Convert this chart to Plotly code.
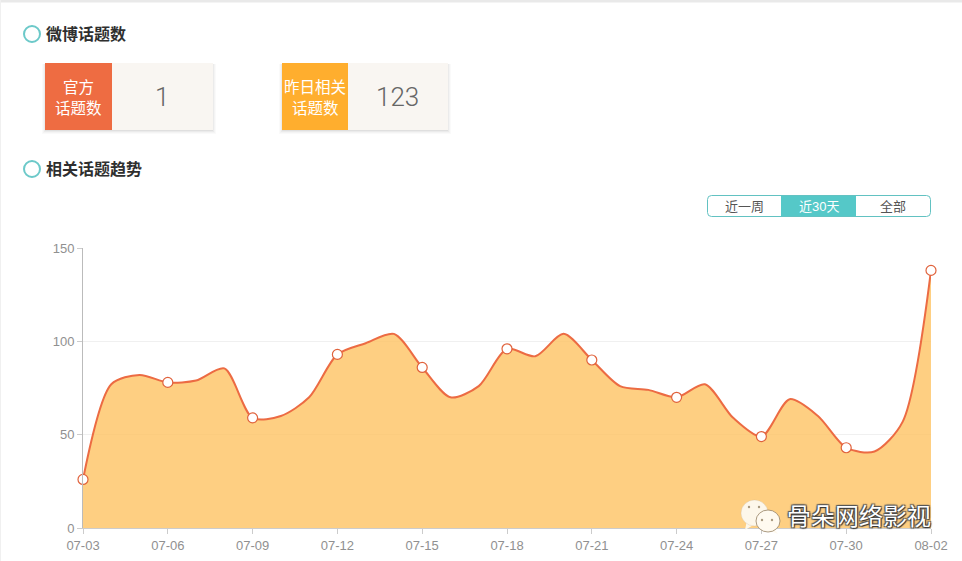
import plotly.graph_objects as go

dates = ["07-03","07-04","07-05","07-06","07-07","07-08","07-09","07-10","07-11","07-12","07-13",
         "07-14","07-15","07-16","07-17","07-18","07-19","07-20","07-21","07-22","07-23","07-24",
         "07-25","07-26","07-27","07-28","07-29","07-30","07-31","08-01","08-02"]
topics = [26,77,82,78,79,85.5,59,60,70,93,99,104,86,70,76,96,92,104,90,76,74,70,77,59,49,69,60,43,41,57,138]
y_ticks = [0,50,100,150]
tick_dates = dates[::3]

L,R,T,B = 83,931,248,528
W,H = 962,561
def px(x): return (x-L)/(R-L)
def py(y): return (B-y)/(B-T)

SANS = "Liberation Sans, Noto Sans CJK SC, sans-serif"
TEAL = "#55c8c8"
shapes, notes = [], []

def rect(x0,y0,x1,y1,fill,line=None,layer="above"):
    shapes.append(dict(type="rect",xref="paper",yref="paper",x0=px(x0),x1=px(x1),y0=py(y0),y1=py(y1),
        fillcolor=fill,line=dict(width=0) if line is None else line,layer=layer))
def oval(x0,y0,x1,y1,fill="rgba(0,0,0,0)",line=None):
    shapes.append(dict(type="circle",xref="paper",yref="paper",x0=px(x0),x1=px(x1),y0=py(y0),y1=py(y1),
        fillcolor=fill,line=dict(width=0) if line is None else line,layer="above"))
def text(x,y,s,size,color,anchor="center",weight="normal",shadow=None,family=SANS):
    f=dict(size=size,color=color,family=family,weight=weight)
    if shadow: f["shadow"]=shadow
    notes.append(dict(xref="paper",yref="paper",x=px(x),y=py(y),text=s,showarrow=False,xanchor=anchor,
        yanchor="middle",font=f,align="center"))
def rounded(x0,y0,x1,y1,r):
    X0,X1,Y0,Y1=px(x0),px(x1),py(y0),py(y1)
    rx,ry=r/(R-L),r/(B-T)
    return (f"M {X0+rx} {Y0} L {X1-rx} {Y0} Q {X1} {Y0} {X1} {Y0-ry} L {X1} {Y1+ry} Q {X1} {Y1} {X1-rx} {Y1} "
            f"L {X0+rx} {Y1} Q {X0} {Y1} {X0} {Y1+ry} L {X0} {Y0-ry} Q {X0} {Y0} {X0+rx} {Y0} Z")
def poly(points,fill):
    d="M "+" L ".join(f"{px(a)} {py(b)}" for a,b in points)+" Z"
    shapes.append(dict(type="path",xref="paper",yref="paper",path=d,fillcolor=fill,line=dict(width=0),layer="above"))

# page edges
rect(0,0,W,2.5,"#e9e9e9")
rect(0,0,1,H,"#f0f0f0")

# section headings
for cy,s in ((34,"微博话题数"),(169,"相关话题趋势")):
    oval(24,cy-8,40,cy+8,line=dict(color="#6cc9c9",width=2))
    text(44,cy,s,16,"#2f2f2f",anchor="left",weight="bold")

# cards
for x0,xm,x1,color,l1,l2,val in ((45,112,213,"#ee6c42","官方","话题数","1"),
                                 (282,348,448,"#ffae2e","昨日相关","话题数","123")):
    for i,a in ((4,0.02),(3,0.025),(2,0.035),(1,0.05)):
        rect(x0-i+1,64,x1+i-1,130+i,f"rgba(0,0,0,{a})")
    rect(x0,63,x1,130,"#f9f6f2")
    rect(x0,63,xm,130,color)
    text((x0+xm)/2,87,l1,15.5,"#ffffff")
    text((x0+xm)/2,108,l2,15.5,"#ffffff")
    text((xm+x1)/2-1,97,val,26,"#666666",family="Roboto, Liberation Sans, sans-serif",weight=300)

# range buttons
shapes.append(dict(type="rect",xref="paper",yref="paper",x0=px(781),x1=px(856),y0=py(195.5),y1=py(216.5),
    fillcolor=TEAL,line=dict(width=0),layer="above"))
shapes.append(dict(type="path",xref="paper",yref="paper",path=rounded(707.5,195.5,930.5,216.5,4),
    line=dict(color="#62c2c2",width=1),fillcolor="rgba(0,0,0,0)",layer="above"))
text(744,206,"近一周",13,"#555555")
text(818.5,206,"近30天",13,"#ffffff")
text(893,206,"全部",13,"#555555")

# watermark
poly([(747,520),(745,530),(755,524)],"#fdf7ea")
oval(741,500,768,526,fill="#fdf7ea",line=dict(color="rgba(190,170,140,0.5)",width=0.5))
poly([(773,527),(778,534),(768,530)],"#fffaf0")
oval(756,510,780,532,fill="#fffaf0",line=dict(color="rgba(150,130,100,0.8)",width=1))
for cx,cy in ((749,507),(759,507),(762,520),(772,520)):
    oval(cx-1.2,cy-1.2,cx+1.2,cy+1.2,fill="#a89a80")
text(859,516,"骨朵网络影视",24,"#ffffff",
     shadow="1px 1px 1px #333, -1px -1px 1px #555, 1px -1px 1px #555, -1px 1px 1px #555")

fig = go.Figure()
fig.add_trace(go.Scatter(x=dates,y=topics,mode="lines",line=dict(color="#ec6b43",width=2,shape="spline",smoothing=0.8),
    fill="tozeroy",fillcolor="rgba(254,195,99,0.8)",hoverinfo="skip"))
fig.add_trace(go.Scatter(x=dates[::3],y=topics[::3],mode="markers",
    marker=dict(color="#ffffff",size=10,line=dict(color="#e0623c",width=1.2)),cliponaxis=False,hoverinfo="skip"))

fig.update_layout(width=W,height=H,autosize=False,showlegend=False,paper_bgcolor="#ffffff",plot_bgcolor="#ffffff",
    margin=dict(l=L,r=W-R,t=T,b=H-B),shapes=shapes,annotations=notes,
    font=dict(family=SANS,size=13,color="#909090"),
    xaxis=dict(type="category",categoryorder="array",categoryarray=dates,range=[0,len(dates)-1],automargin=False,
        tickmode="array",tickvals=tick_dates,ticktext=tick_dates,ticks="outside",ticklen=5,tickcolor="#cccccc",
        showgrid=False,showline=True,linecolor="#cccccc",zeroline=False,tickfont=dict(size=13,color="#909090")),
    yaxis=dict(range=[0,150],tickmode="array",tickvals=y_ticks,ticks="outside",ticklen=5,tickcolor="#cccccc",automargin=False,
        gridcolor="#f0f0f0",showline=True,linecolor="#bbbbbb",zeroline=False,tickfont=dict(size=13,color="#909090")))
fig.write_html("out.html",config=dict(displayModeBar=False),
    post_script="document.body.style.margin='0';document.documentElement.style.overflow='hidden';")
